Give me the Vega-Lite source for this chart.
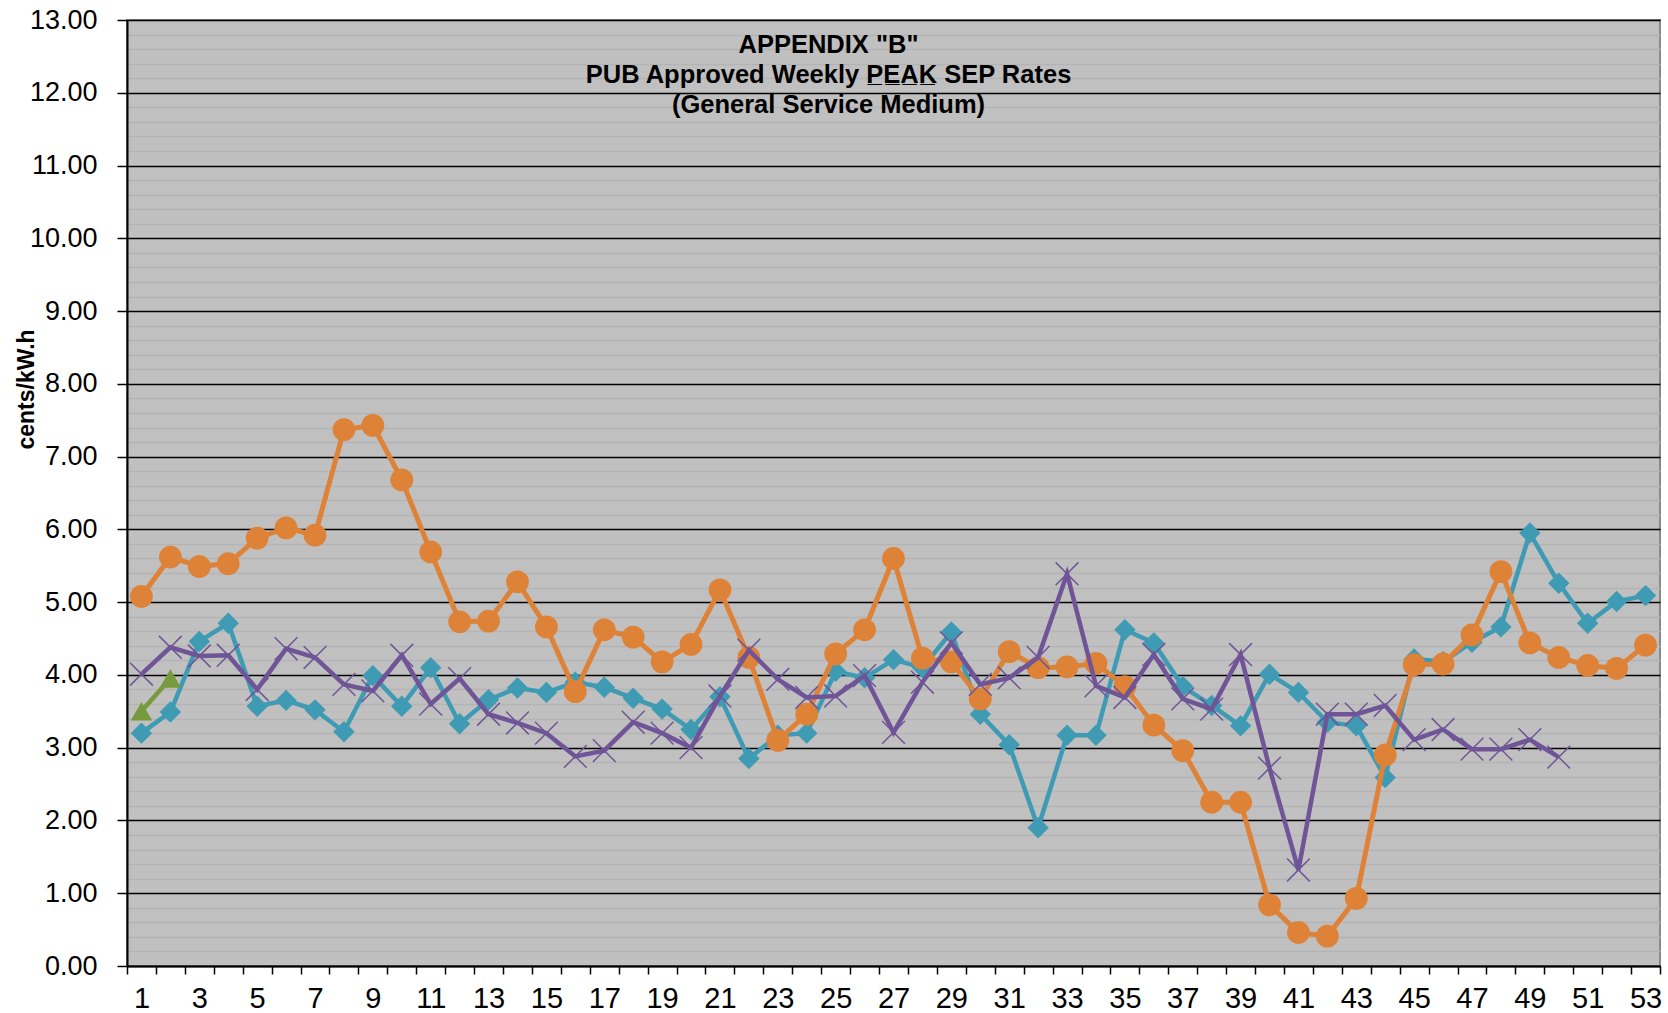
{
  "$schema": "https://vega.github.io/schema/vega-lite/v6.json",
  "width": 1533,
  "height": 946,
  "autosize": {"type": "none"},
  "padding": {"left": 127, "top": 20, "right": 8, "bottom": 47},
  "background": "white",
  "config": {
    "view": {"fill": "#c0c0c0", "stroke": "#8a8a8a", "strokeWidth": 2},
    "font": "Liberation Sans"
  },
  "title": {
    "text": ["APPENDIX \"B\"", "PUB Approved Weekly P\u0332E\u0332A\u0332K\u0332 SEP Rates", "(General Service Medium)"],
    "fontSize": 25.5,
    "font": "Liberation Sans",
    "fontWeight": "bold",
    "color": "black",
    "anchor": "middle",
    "frame": "group",
    "orient": "top",
    "offset": 0,
    "lineHeight": 30,
    "dy": 112,
    "dx": -65
  },
  "data": {
    "values": [
      {"week": 1, "series": "Series 1", "rate": 3.20},
      {"week": 2, "series": "Series 1", "rate": 3.49},
      {"week": 3, "series": "Series 1", "rate": 4.46},
      {"week": 4, "series": "Series 1", "rate": 4.71},
      {"week": 5, "series": "Series 1", "rate": 3.57},
      {"week": 6, "series": "Series 1", "rate": 3.65},
      {"week": 7, "series": "Series 1", "rate": 3.52},
      {"week": 8, "series": "Series 1", "rate": 3.22},
      {"week": 9, "series": "Series 1", "rate": 3.99},
      {"week": 10, "series": "Series 1", "rate": 3.57},
      {"week": 11, "series": "Series 1", "rate": 4.10},
      {"week": 12, "series": "Series 1", "rate": 3.33},
      {"week": 13, "series": "Series 1", "rate": 3.66},
      {"week": 14, "series": "Series 1", "rate": 3.82},
      {"week": 15, "series": "Series 1", "rate": 3.76},
      {"week": 16, "series": "Series 1", "rate": 3.90},
      {"week": 17, "series": "Series 1", "rate": 3.83},
      {"week": 18, "series": "Series 1", "rate": 3.68},
      {"week": 19, "series": "Series 1", "rate": 3.53},
      {"week": 20, "series": "Series 1", "rate": 3.25},
      {"week": 21, "series": "Series 1", "rate": 3.70},
      {"week": 22, "series": "Series 1", "rate": 2.85},
      {"week": 23, "series": "Series 1", "rate": 3.17},
      {"week": 24, "series": "Series 1", "rate": 3.20},
      {"week": 25, "series": "Series 1", "rate": 4.05},
      {"week": 26, "series": "Series 1", "rate": 3.96},
      {"week": 27, "series": "Series 1", "rate": 4.21},
      {"week": 28, "series": "Series 1", "rate": 4.10},
      {"week": 29, "series": "Series 1", "rate": 4.59},
      {"week": 30, "series": "Series 1", "rate": 3.46},
      {"week": 31, "series": "Series 1", "rate": 3.04},
      {"week": 32, "series": "Series 1", "rate": 1.90},
      {"week": 33, "series": "Series 1", "rate": 3.17},
      {"week": 34, "series": "Series 1", "rate": 3.17},
      {"week": 35, "series": "Series 1", "rate": 4.62},
      {"week": 36, "series": "Series 1", "rate": 4.44},
      {"week": 37, "series": "Series 1", "rate": 3.84},
      {"week": 38, "series": "Series 1", "rate": 3.58},
      {"week": 39, "series": "Series 1", "rate": 3.30},
      {"week": 40, "series": "Series 1", "rate": 4.01},
      {"week": 41, "series": "Series 1", "rate": 3.76},
      {"week": 42, "series": "Series 1", "rate": 3.35},
      {"week": 43, "series": "Series 1", "rate": 3.30},
      {"week": 44, "series": "Series 1", "rate": 2.59},
      {"week": 45, "series": "Series 1", "rate": 4.22},
      {"week": 46, "series": "Series 1", "rate": 4.18},
      {"week": 47, "series": "Series 1", "rate": 4.45},
      {"week": 48, "series": "Series 1", "rate": 4.66},
      {"week": 49, "series": "Series 1", "rate": 5.95},
      {"week": 50, "series": "Series 1", "rate": 5.26},
      {"week": 51, "series": "Series 1", "rate": 4.71},
      {"week": 52, "series": "Series 1", "rate": 5.01},
      {"week": 53, "series": "Series 1", "rate": 5.09},
      {"week": 1, "series": "Series 2", "rate": 5.08},
      {"week": 2, "series": "Series 2", "rate": 5.62},
      {"week": 3, "series": "Series 2", "rate": 5.49},
      {"week": 4, "series": "Series 2", "rate": 5.53},
      {"week": 5, "series": "Series 2", "rate": 5.88},
      {"week": 6, "series": "Series 2", "rate": 6.02},
      {"week": 7, "series": "Series 2", "rate": 5.92},
      {"week": 8, "series": "Series 2", "rate": 7.37},
      {"week": 9, "series": "Series 2", "rate": 7.43},
      {"week": 10, "series": "Series 2", "rate": 6.68},
      {"week": 11, "series": "Series 2", "rate": 5.69},
      {"week": 12, "series": "Series 2", "rate": 4.73},
      {"week": 13, "series": "Series 2", "rate": 4.74},
      {"week": 14, "series": "Series 2", "rate": 5.28},
      {"week": 15, "series": "Series 2", "rate": 4.66},
      {"week": 16, "series": "Series 2", "rate": 3.77},
      {"week": 17, "series": "Series 2", "rate": 4.62},
      {"week": 18, "series": "Series 2", "rate": 4.52},
      {"week": 19, "series": "Series 2", "rate": 4.18},
      {"week": 20, "series": "Series 2", "rate": 4.42},
      {"week": 21, "series": "Series 2", "rate": 5.17},
      {"week": 22, "series": "Series 2", "rate": 4.24},
      {"week": 23, "series": "Series 2", "rate": 3.10},
      {"week": 24, "series": "Series 2", "rate": 3.46},
      {"week": 25, "series": "Series 2", "rate": 4.29},
      {"week": 26, "series": "Series 2", "rate": 4.62},
      {"week": 27, "series": "Series 2", "rate": 5.60},
      {"week": 28, "series": "Series 2", "rate": 4.23},
      {"week": 29, "series": "Series 2", "rate": 4.18},
      {"week": 30, "series": "Series 2", "rate": 3.67},
      {"week": 31, "series": "Series 2", "rate": 4.32},
      {"week": 32, "series": "Series 2", "rate": 4.10},
      {"week": 33, "series": "Series 2", "rate": 4.11},
      {"week": 34, "series": "Series 2", "rate": 4.16},
      {"week": 35, "series": "Series 2", "rate": 3.84},
      {"week": 36, "series": "Series 2", "rate": 3.31},
      {"week": 37, "series": "Series 2", "rate": 2.96},
      {"week": 38, "series": "Series 2", "rate": 2.25},
      {"week": 39, "series": "Series 2", "rate": 2.25},
      {"week": 40, "series": "Series 2", "rate": 0.84},
      {"week": 41, "series": "Series 2", "rate": 0.46},
      {"week": 42, "series": "Series 2", "rate": 0.41},
      {"week": 43, "series": "Series 2", "rate": 0.93},
      {"week": 44, "series": "Series 2", "rate": 2.90},
      {"week": 45, "series": "Series 2", "rate": 4.14},
      {"week": 46, "series": "Series 2", "rate": 4.15},
      {"week": 47, "series": "Series 2", "rate": 4.55},
      {"week": 48, "series": "Series 2", "rate": 5.42},
      {"week": 49, "series": "Series 2", "rate": 4.44},
      {"week": 50, "series": "Series 2", "rate": 4.24},
      {"week": 51, "series": "Series 2", "rate": 4.13},
      {"week": 52, "series": "Series 2", "rate": 4.09},
      {"week": 53, "series": "Series 2", "rate": 4.41},
      {"week": 1, "series": "Series 3", "rate": 4.01},
      {"week": 2, "series": "Series 3", "rate": 4.38},
      {"week": 3, "series": "Series 3", "rate": 4.26},
      {"week": 4, "series": "Series 3", "rate": 4.27},
      {"week": 5, "series": "Series 3", "rate": 3.80},
      {"week": 6, "series": "Series 3", "rate": 4.36},
      {"week": 7, "series": "Series 3", "rate": 4.24},
      {"week": 8, "series": "Series 3", "rate": 3.87},
      {"week": 9, "series": "Series 3", "rate": 3.78},
      {"week": 10, "series": "Series 3", "rate": 4.27},
      {"week": 11, "series": "Series 3", "rate": 3.60},
      {"week": 12, "series": "Series 3", "rate": 3.95},
      {"week": 13, "series": "Series 3", "rate": 3.46},
      {"week": 14, "series": "Series 3", "rate": 3.34},
      {"week": 15, "series": "Series 3", "rate": 3.20},
      {"week": 16, "series": "Series 3", "rate": 2.88},
      {"week": 17, "series": "Series 3", "rate": 2.96},
      {"week": 18, "series": "Series 3", "rate": 3.35},
      {"week": 19, "series": "Series 3", "rate": 3.20},
      {"week": 20, "series": "Series 3", "rate": 3.00},
      {"week": 21, "series": "Series 3", "rate": 3.71},
      {"week": 22, "series": "Series 3", "rate": 4.34},
      {"week": 23, "series": "Series 3", "rate": 3.94},
      {"week": 24, "series": "Series 3", "rate": 3.69},
      {"week": 25, "series": "Series 3", "rate": 3.71},
      {"week": 26, "series": "Series 3", "rate": 3.99},
      {"week": 27, "series": "Series 3", "rate": 3.21},
      {"week": 28, "series": "Series 3", "rate": 3.90},
      {"week": 29, "series": "Series 3", "rate": 4.44},
      {"week": 30, "series": "Series 3", "rate": 3.87},
      {"week": 31, "series": "Series 3", "rate": 3.96},
      {"week": 32, "series": "Series 3", "rate": 4.24},
      {"week": 33, "series": "Series 3", "rate": 5.39},
      {"week": 34, "series": "Series 3", "rate": 3.85},
      {"week": 35, "series": "Series 3", "rate": 3.69},
      {"week": 36, "series": "Series 3", "rate": 4.28},
      {"week": 37, "series": "Series 3", "rate": 3.67},
      {"week": 38, "series": "Series 3", "rate": 3.53},
      {"week": 39, "series": "Series 3", "rate": 4.28},
      {"week": 40, "series": "Series 3", "rate": 2.72},
      {"week": 41, "series": "Series 3", "rate": 1.32},
      {"week": 42, "series": "Series 3", "rate": 3.46},
      {"week": 43, "series": "Series 3", "rate": 3.46},
      {"week": 44, "series": "Series 3", "rate": 3.58},
      {"week": 45, "series": "Series 3", "rate": 3.11},
      {"week": 46, "series": "Series 3", "rate": 3.25},
      {"week": 47, "series": "Series 3", "rate": 2.98},
      {"week": 48, "series": "Series 3", "rate": 2.98},
      {"week": 49, "series": "Series 3", "rate": 3.11},
      {"week": 50, "series": "Series 3", "rate": 2.87},
      {"week": 1, "series": "Series 4", "rate": 3.50},
      {"week": 2, "series": "Series 4", "rate": 3.95}
    ]
  },
  "encoding": {
    "x": {
      "field": "week",
      "type": "ordinal",
      "bandPosition": 0.5,
      "scale": {"type": "band", "paddingInner": 0, "paddingOuter": 0, "domain": [1,2,3,4,5,6,7,8,9,10,11,12,13,14,15,16,17,18,19,20,21,22,23,24,25,26,27,28,29,30,31,32,33,34,35,36,37,38,39,40,41,42,43,44,45,46,47,48,49,50,51,52,53]},
      "axis": {
        "title": null,
        "tickBand": "extent",
        "labelAngle": 0,
        "labelExpr": "datum.value % 2 == 1 ? datum.label : ''",
        "labelOverlap": false,
        "labelFont": "Liberation Sans",
        "labelFontSize": 29,
        "labelColor": "black",
        "labelPadding": 10,
        "tickColor": "black",
        "tickSize": 8,
        "tickWidth": 1.5,
        "domainColor": "black",
        "domainWidth": 2,
        "grid": false
      }
    }
  },
  "layer": [
    {
      "transform": [{"filter": "datum.series == 'Series 1'"}],
      "mark": {"type": "line", "color": "#3F9BB3", "strokeWidth": 4.5, "point": {"shape": "diamond", "size": 460, "filled": true, "color": "#3F9BB3"}},
      "encoding": {
        "y": {
          "field": "rate", "type": "quantitative",
          "scale": {"domain": [0, 13], "nice": false},
          "axis": {
            "orient": "right",
            "values": [0.2,0.4,0.6,0.8,1.2,1.4,1.6,1.8,2.2,2.4,2.6,2.8,3.2,3.4,3.6,3.8,4.2,4.4,4.6,4.8,5.2,5.4,5.6,5.8,6.2,6.4,6.6,6.8,7.2,7.4,7.6,7.8,8.2,8.4,8.6,8.8,9.2,9.4,9.6,9.8,10.2,10.4,10.6,10.8,11.2,11.4,11.6,11.8,12.2,12.4,12.6,12.8],
            "grid": true,
            "gridColor": "#b4b4b4",
            "gridWidth": 1.5,
            "labels": false,
            "ticks": false,
            "domain": false,
            "title": null
          }
        }
      }
    },
    {
      "transform": [{"filter": "datum.series == 'Series 2'"}],
      "mark": {"type": "line", "color": "#DE8238", "strokeWidth": 5, "point": {"shape": "circle", "size": 520, "filled": true, "color": "#DE8238"}},
      "encoding": {
        "y": {
          "field": "rate", "type": "quantitative",
          "scale": {"domain": [0, 13], "nice": false},
          "axis": {
            "title": "cents/kW.h",
            "titleFont": "Liberation Sans",
            "titleFontSize": 23,
            "titleFontWeight": "bold",
            "titleColor": "black",
            "titleAngle": 270,
            "titleAlign": "center",
            "titleBaseline": "alphabetic",
            "titleX": -94,
            "titleY": 369,
            "values": [0,1,2,3,4,5,6,7,8,9,10,11,12,13],
            "format": ".2f",
            "labelFont": "Liberation Sans",
            "labelFontSize": 27,
            "labelColor": "black",
            "labelPadding": 20,
            "tickColor": "black",
            "tickSize": 10,
            "tickWidth": 1.5,
            "domainColor": "black",
            "domainWidth": 2,
            "grid": true,
            "gridColor": "black",
            "gridWidth": 1.5
          }
        }
      }
    },
    {
      "transform": [{"filter": "datum.series == 'Series 3'"}],
      "mark": {"type": "line", "color": "#6F5597", "strokeWidth": 4.5, "point": {"shape": "M-1,-1L1,1M-1,1L1,-1", "size": 520, "filled": false, "color": "#6F5597", "strokeWidth": 1.5}},
      "encoding": {
        "y": {"field": "rate", "type": "quantitative", "scale": {"domain": [0, 13], "nice": false}, "axis": null}
      }
    },
    {
      "transform": [{"filter": "datum.series == 'Series 4'"}],
      "mark": {"type": "line", "color": "#779A3C", "strokeWidth": 4.5, "point": {"shape": "triangle-up", "size": 460, "filled": true, "color": "#779A3C"}},
      "encoding": {
        "y": {"field": "rate", "type": "quantitative", "scale": {"domain": [0, 13], "nice": false}, "axis": null}
      }
    }
  ],
  "resolve": {"axis": {"y": "independent"}}
}
